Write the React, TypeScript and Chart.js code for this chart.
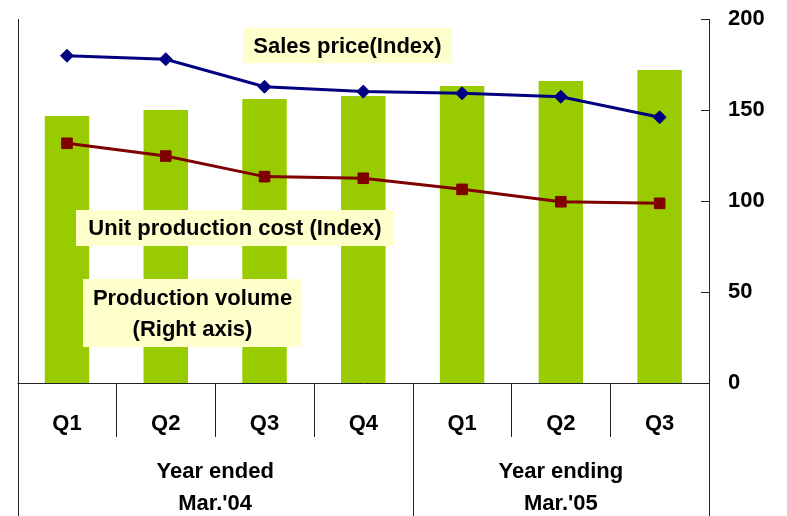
import React, { useEffect, useRef } from "react";
import { Chart, registerables } from "chart.js";

Chart.register(...registerables);

const quarters = ["Q1", "Q2", "Q3", "Q4", "Q1", "Q2", "Q3"];
const yearGroupLabels = [
  ["Year ended", "Mar.'04"],
  ["Year ending", "Mar.'05"],
];
const yearGroupSizes = [4, 3];
const productionVolume = [146.7, 150.0, 156.0, 157.7, 163.2, 166.0, 172.0];
const salesPrice = [179.8, 177.9, 162.8, 160.1, 159.2, 157.3, 146.0];
const unitCost = [131.7, 124.7, 113.4, 112.5, 106.4, 99.6, 98.7];
const yTicks = [0, 50, 100, 150, 200];
const salesLabel = "Sales price(Index)";
const costLabel = "Unit production cost (Index)";
const volumeLabel = ["Production volume", "(Right axis)"];

const FONT = '"Liberation Sans", Arial, Helvetica, sans-serif';

function seg(ctx: CanvasRenderingContext2D, x1: number, y1: number, x2: number, y2: number) {
  ctx.beginPath();
  ctx.moveTo(x1, y1);
  ctx.lineTo(x2, y2);
  ctx.stroke();
}

function box(ctx: CanvasRenderingContext2D, x: number, y: number, w: number, h: number, lines: string[]) {
  ctx.fillStyle = "#FFFFCC";
  ctx.fillRect(x, y, w, h);
  ctx.fillStyle = "#000";
  ctx.font = `bold 22px ${FONT}`;
  ctx.textAlign = "center";
  ctx.textBaseline = "middle";
  const lh = 31;
  const cy = y + h / 2 - ((lines.length - 1) * lh) / 2;
  lines.forEach((t, i) => ctx.fillText(t, x + w / 2, cy + i * lh + 1));
}

const overlayPlugin = {
  id: "overlay",
  afterDatasetsDraw(chart: any) {
    const ctx: CanvasRenderingContext2D = chart.ctx;
    const { left, right, top, bottom } = chart.chartArea;
    const H = chart.height;
    const yScale = chart.scales.y;
    const n = quarters.length;
    const cw = (right - left) / n;
    const px = (v: number) => Math.round(v) + 0.5;

    ctx.save();
    // annotation boxes
    box(ctx, 243, 28, 209, 35, [salesLabel]);
    box(ctx, 76, 210, 318, 36, [costLabel]);
    box(ctx, 83, 279, 219, 68, volumeLabel);

    ctx.strokeStyle = "#222";
    ctx.lineWidth = 1;
    // left and right vertical lines
    seg(ctx, px(left), top, px(left), H);
    seg(ctx, px(right), top, px(right), H);
    // bottom axis
    seg(ctx, left, px(bottom), right, px(bottom));
    // right axis tick marks (inward)
    yTicks.forEach((v) => {
      const yy = px(yScale.getPixelForValue(v));
      seg(ctx, right - 8, yy, right, yy);
    });
    // category separators
    let groupEnd = 0;
    const groupBounds: number[] = [];
    yearGroupSizes.forEach((s) => {
      groupEnd += s;
      groupBounds.push(groupEnd);
    });
    for (let i = 1; i < n; i++) {
      const xx = px(left + i * cw);
      const isGroup = groupBounds.includes(i);
      seg(ctx, xx, bottom, xx, isGroup ? H : bottom + 54);
    }
    // quarter labels
    ctx.fillStyle = "#000";
    ctx.font = `bold 22px ${FONT}`;
    ctx.textAlign = "center";
    ctx.textBaseline = "middle";
    quarters.forEach((q, i) => {
      ctx.fillText(q, left + (i + 0.5) * cw, bottom + 41);
    });
    // year group labels
    let start = 0;
    yearGroupSizes.forEach((s, g) => {
      const cx = left + (start + s / 2) * cw;
      ctx.fillText(yearGroupLabels[g][0], cx, bottom + 89);
      ctx.fillText(yearGroupLabels[g][1], cx, bottom + 121);
      start += s;
    });
    ctx.restore();
  },
};

export default function App() {
  const ref = useRef<HTMLCanvasElement | null>(null);

  useEffect(() => {
    if (!ref.current) return;
    const chart = new Chart(ref.current, {
      type: "bar",
      data: {
        labels: quarters,
        datasets: [
          {
            type: "line",
            label: salesLabel,
            data: salesPrice,
            borderColor: "#000080",
            backgroundColor: "#000080",
            borderWidth: 3,
            pointStyle: "rectRot",
            pointRadius: 6.5,
            pointBorderWidth: 1,
            tension: 0,
            order: 1,
          },
          {
            type: "line",
            label: costLabel,
            data: unitCost,
            borderColor: "#800000",
            backgroundColor: "#800000",
            borderWidth: 3,
            pointStyle: "rect",
            pointRadius: 7.5,
            pointBorderWidth: 1,
            tension: 0,
            order: 1,
          },
          {
            type: "bar",
            label: volumeLabel.join(" "),
            data: productionVolume,
            backgroundColor: "#99CC00",
            borderWidth: 0,
            barPercentage: 0.45,
            categoryPercentage: 1,
            order: 2,
          },
        ],
      } as any,
      options: {
        animation: false,
        responsive: true,
        maintainAspectRatio: false,
        layout: { padding: { top: 19, left: 17.6, right: 0, bottom: 133 } },
        plugins: {
          legend: { display: false },
          tooltip: { enabled: false },
          title: { display: false },
        },
        scales: {
          x: { display: false, offset: true },
          y: {
            position: "right",
            min: 0,
            max: 200,
            afterBuildTicks: (s: any) => {
              s.ticks = yTicks.map((v) => ({ value: v }));
            },
            afterFit: (s: any) => {
              s.width = 78;
              s.paddingTop = 0;
              s.paddingBottom = 0;
            },
            ticks: {
              padding: 19,
              color: "#000",
              font: { family: FONT, size: 22, weight: "bold" },
            },
            grid: { display: false, drawTicks: false },
            border: { display: false },
          },
        },
      } as any,
      plugins: [overlayPlugin],
    });
    return () => chart.destroy();
  }, []);

  return (
    <div
      style={{
        position: "fixed",
        left: 0,
        top: 0,
        width: 787,
        height: 516,
        background: "#fff",
      }}
    >
      <canvas ref={ref} />
    </div>
  );
}
